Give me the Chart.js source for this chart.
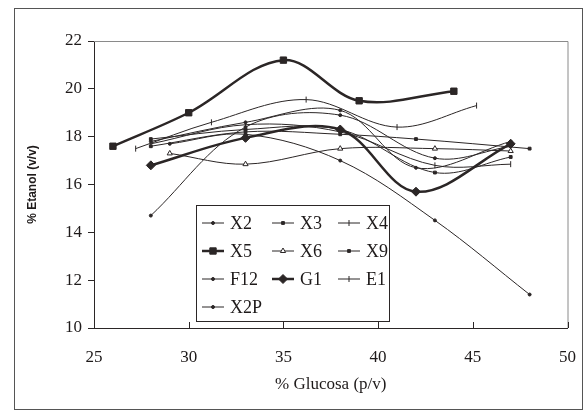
<!DOCTYPE html>
<html>
<head>
<meta charset="utf-8">
<script src="https://cdn.jsdelivr.net/npm/chart.js@4.4.0/dist/chart.umd.min.js"></script>
<style>
html, body { margin: 0; padding: 0; background: #fff; }
</style>
</head>
<body>
<canvas id="chart1" width="587" height="418"></canvas>
<script>
// values
var xTicks = [25, 30, 35, 40, 45, 50];
var yTicks = [10, 12, 14, 16, 18, 20, 22];

var glucosa_X2 = [28, 33, 38, 42, 47];
var etanol_X2 = [17.8, 18.6, 19.1, 16.7, 17.8];

var glucosa_X3 = [28, 33, 38, 42, 48];
var etanol_X3 = [17.6, 18.2, 18.1, 17.9, 17.5];

var glucosa_X4 = [28, 33, 38, 43, 47];
var etanol_X4 = [17.7, 18.5, 18.2, 16.8, 16.85];

var glucosa_X5 = [26, 30, 35, 39, 44];
var etanol_X5 = [17.6, 19.0, 21.2, 19.5, 19.9];

var glucosa_X6 = [29, 33, 38, 43, 47];
var etanol_X6 = [17.3, 16.85, 17.5, 17.5, 17.4];

var glucosa_X9 = [28, 33, 38, 43, 47];
var etanol_X9 = [17.9, 18.3, 18.3, 16.5, 17.15];

var glucosa_F12 = [28, 33, 38, 43, 47];
var etanol_F12 = [14.7, 18.4, 18.9, 17.1, 17.6];

var glucosa_G1 = [28, 33, 38, 42, 47];
var etanol_G1 = [16.8, 17.95, 18.3, 15.7, 17.7];

var glucosa_E1 = [27.2, 31.2, 36.2, 41, 45.2];
var etanol_E1 = [17.5, 18.6, 19.55, 18.4, 19.3];

var glucosa_X2P = [29, 33, 38, 43, 48];
var etanol_X2P = [17.7, 18.1, 17.0, 14.5, 11.4];

var seriesNames = ['X2', 'X3', 'X4', 'X5', 'X6', 'X9', 'F12', 'G1', 'E1', 'X2P'];
var seriesX = [glucosa_X2, glucosa_X3, glucosa_X4, glucosa_X5, glucosa_X6, glucosa_X9, glucosa_F12, glucosa_G1, glucosa_E1, glucosa_X2P];
var seriesY = [etanol_X2, etanol_X3, etanol_X4, etanol_X5, etanol_X6, etanol_X9, etanol_F12, etanol_G1, etanol_E1, etanol_X2P];

var ink = '#2b2626';
var styles = {
    X2:  { pointStyle: 'circle', radius: 1.5, width: 1, rotation: 0 },
    X3:  { pointStyle: 'rect', radius: 2, width: 1, rotation: 0 },
    X4:  { pointStyle: 'line', radius: 3, width: 1, rotation: 90 },
    X5:  { pointStyle: 'rect', radius: 4.5, width: 2.5, rotation: 0 },
    X6:  { pointStyle: 'triangle', radius: 3, width: 1, rotation: 0, hollow: true },
    X9:  { pointStyle: 'rect', radius: 2, width: 1, rotation: 0 },
    F12: { pointStyle: 'circle', radius: 1.5, width: 1, rotation: 0 },
    G1:  { pointStyle: 'rectRot', radius: 4.5, width: 2.5, rotation: 0 },
    E1:  { pointStyle: 'line', radius: 3, width: 1, rotation: 90 },
    X2P: { pointStyle: 'circle', radius: 1.5, width: 1, rotation: 0 }
};

function buildDatasets(){
    var sets = new Array();
    for (var i = 0; i < seriesNames.length; i++){
        var name = seriesNames[i];
        var st = styles[name];
        var pts = new Array();
        for (var j = 0; j < seriesX[i].length; j++){
            pts.push({ x: seriesX[i][j], y: seriesY[i][j] });
        }
        sets.push({
            label: name,
            data: pts,
            borderColor: ink,
            borderWidth: st.width,
            backgroundColor: st.hollow ? '#fff' : ink,
            pointStyle: st.pointStyle,
            pointRadius: st.radius,
            pointRotation: st.rotation,
            pointBorderWidth: 1,
            pointBorderColor: ink,
            pointBackgroundColor: st.hollow ? '#fff' : ink,
            tension: 0.35,
            fill: false
        });
    }
    return sets;
}

function drawMarker(ctx, st, x, y){
    if (Chart.helpers && Chart.helpers.drawPoint){
        ctx.save();
        ctx.strokeStyle = ink;
        ctx.fillStyle = st.hollow ? '#fff' : ink;
        ctx.lineWidth = 1;
        Chart.helpers.drawPoint(ctx, { pointStyle: st.pointStyle, radius: st.radius, rotation: st.rotation, borderWidth: 1 }, x, y);
        ctx.restore();
    }
}

var extras = {
    id: 'extras',
    afterDraw: function(chart){
        var ctx = chart.ctx;
        var area = chart.chartArea;
        var xs = chart.scales.x;

        ctx.save();
        // outer frame
        ctx.strokeStyle = '#555';
        ctx.lineWidth = 1;
        ctx.strokeRect(14.5, 8.5, 568, 401);

        // plot area top and right edge
        ctx.strokeStyle = '#8a8a8a';
        ctx.beginPath();
        ctx.moveTo(area.left, area.top + 0.5);
        ctx.lineTo(area.right + 0.5, area.top + 0.5);
        ctx.lineTo(area.right + 0.5, area.bottom);
        ctx.stroke();

        // x ticks point inward
        ctx.strokeStyle = ink;
        ctx.beginPath();
        for (var i = 1; i < xTicks.length; i++){
            var px = Math.round(xs.getPixelForValue(xTicks[i])) + 0.5;
            ctx.moveTo(px, area.bottom);
            ctx.lineTo(px, area.bottom - 6);
        }
        ctx.stroke();

        // legend box
        var bx = 196.5, by = 205.5, bw = 193, bh = 116;
        ctx.fillStyle = '#fff';
        ctx.fillRect(bx, by, bw, bh);
        ctx.strokeStyle = ink;
        ctx.strokeRect(bx, by, bw, bh);

        var colX = [202, 272, 338];
        var rowY = [223, 251, 279, 307];
        ctx.font = '18px "Liberation Serif"';
        ctx.textBaseline = 'middle';
        ctx.textAlign = 'left';
        for (var k = 0; k < seriesNames.length; k++){
            var name = seriesNames[k];
            var st = styles[name];
            var lx = colX[k % 3];
            var ly = rowY[Math.floor(k / 3)];
            ctx.strokeStyle = ink;
            ctx.lineWidth = st.width;
            ctx.beginPath();
            ctx.moveTo(lx, ly);
            ctx.lineTo(lx + 22, ly);
            ctx.stroke();
            drawMarker(ctx, st, lx + 11, ly);
            ctx.fillStyle = '#1e1a1a';
            ctx.fillText(name, lx + 28, ly + 1);
        }
        ctx.restore();
    }
};

var ctx = document.getElementById('chart1').getContext('2d');
var chart1 = new Chart(ctx, {
    type: 'line',
    data: { datasets: buildDatasets() },
    plugins: [extras],
    options: {
        responsive: false,
        animation: false,
        devicePixelRatio: 1,
        layout: { padding: { left: 0, top: 41, right: 10, bottom: 0 } },
        plugins: {
            legend: { display: false },
            tooltip: { enabled: false }
        },
        scales: {
            x: {
                type: 'linear',
                min: 25,
                max: 50,
                afterFit: function(scale){ scale.height = 90; },
                afterBuildTicks: function(scale){
                    scale.ticks = xTicks.map(function(v){ return { value: v }; });
                },
                grid: { display: false },
                border: { display: true, color: ink, width: 1 },
                ticks: {
                    color: '#1e1a1a',
                    padding: 11,
                    font: { family: 'Liberation Serif', size: 17 }
                },
                title: {
                    display: true,
                    text: '% Glucosa (p/v)',
                    color: '#1e1a1a',
                    padding: { top: 0, bottom: 23 },
                    font: { family: 'Liberation Serif', size: 17 }
                }
            },
            y: {
                min: 10,
                max: 22,
                afterFit: function(scale){ scale.width = 94; },
                afterBuildTicks: function(scale){
                    scale.ticks = yTicks.map(function(v){ return { value: v }; });
                },
                grid: { drawOnChartArea: false, tickLength: 6, color: ink },
                border: { display: true, color: ink, width: 1 },
                ticks: {
                    color: '#1e1a1a',
                    padding: 6,
                    font: { family: 'Liberation Serif', size: 17 }
                },
                title: {
                    display: true,
                    text: '% Etanol (v/v)',
                    color: '#1e1a1a',
                    padding: { top: 25, bottom: 0 },
                    font: { family: 'Liberation Sans', size: 12, weight: 'bold' }
                }
            }
        }
    }
});
</script>
</body>
</html>
